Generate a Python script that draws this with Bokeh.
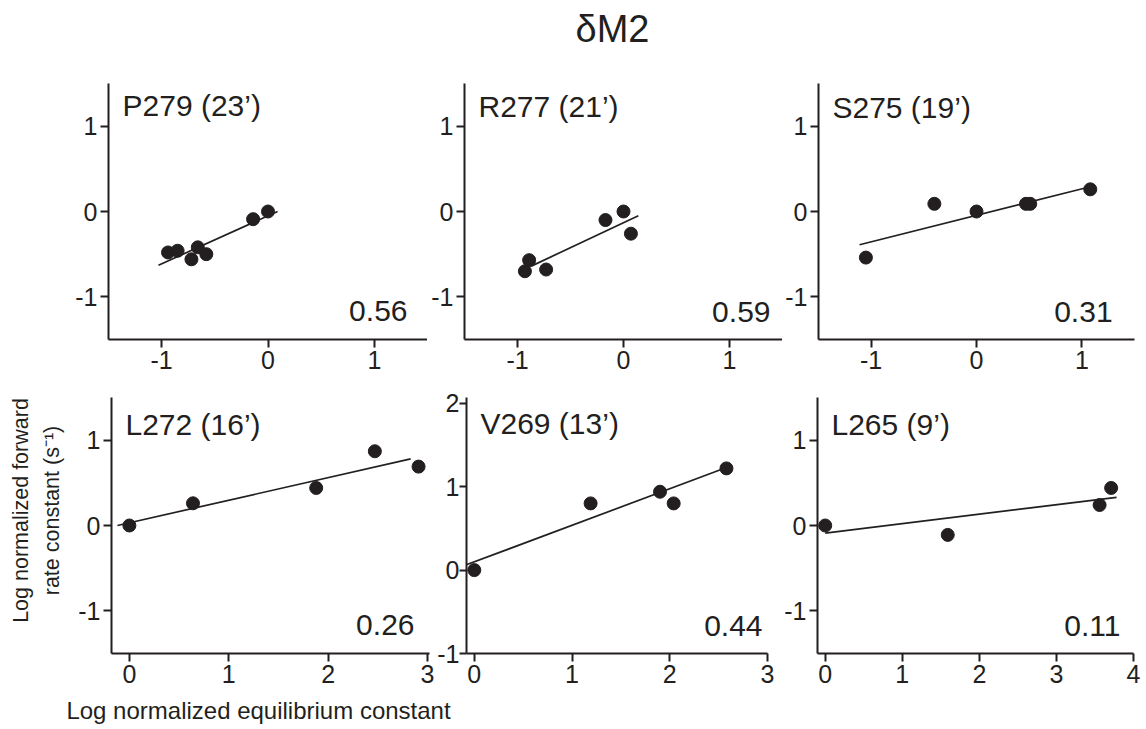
import math
from bokeh.plotting import figure
from bokeh.models import Range1d, FixedTicker, Label, CustomJSTickFormatter
from bokeh.layouts import column, row
from bokeh.embed import file_html
from bokeh.resources import INLINE

FONT = "Liberation Sans"
INK = "#231f20"
BASE_SHIFT = 0.38  # em; compensates the baseline placement of svg labels

# ---------------- data ----------------
title_text = "δM2"
x_title = "Log normalized equilibrium constant"
y_title_lines = ["Log normalized forward", "rate constant (s⁻¹)"]

panel_names = ["P279 (23’)", "R277 (21’)", "S275 (19’)", "L272 (16’)", "V269 (13’)", "L265 (9’)"]
slope_labels = ["0.56", "0.59", "0.31", "0.26", "0.44", "0.11"]

p279_x = [-0.94, -0.85, -0.72, -0.66, -0.58, -0.14, 0.0]
p279_y = [-0.48, -0.46, -0.56, -0.42, -0.50, -0.09, 0.0]
p279_fit_x = [-1.03, 0.09]
p279_fit_y = [-0.63, 0.0]

r277_x = [-0.93, -0.89, -0.73, -0.17, 0.0, 0.07]
r277_y = [-0.70, -0.57, -0.68, -0.10, 0.0, -0.26]
r277_fit_x = [-0.87, 0.14]
r277_fit_y = [-0.64, -0.05]

s275_x = [-1.05, -0.40, 0.0, 0.47, 0.51, 1.08]
s275_y = [-0.54, 0.09, 0.0, 0.09, 0.09, 0.26]
s275_fit_x = [-1.11, 1.08]
s275_fit_y = [-0.39, 0.29]

l272_x = [0.0, 0.64, 1.88, 2.47, 2.91]
l272_y = [0.0, 0.26, 0.44, 0.87, 0.69]
l272_fit_x = [-0.12, 2.83]
l272_fit_y = [0.0, 0.78]

v269_x = [0.0, 1.19, 1.90, 2.04, 2.58]
v269_y = [0.0, 0.80, 0.94, 0.80, 1.22]
v269_fit_x = [-0.09, 2.58]
v269_fit_y = [0.06, 1.23]

l265_x = [0.0, 1.59, 3.56, 3.71]
l265_y = [0.0, -0.11, 0.24, 0.44]
l265_fit_x = [0.0, 3.78]
l265_fit_y = [-0.09, 0.33]

x_ticks_top = [-1, 0, 1]
x_ticks_3 = [0, 1, 2, 3]
x_ticks_4 = [0, 1, 2, 3, 4]
y_ticks_std = [-1, 0, 1]
y_ticks_v269 = [-1, 0, 1, 2]

HYPHEN_FMT = "return (tick < 0 ? '-' : '') + Math.abs(tick).toString();"
TICK_FS = 25


def blank(w, h, yr=None):
    f = figure(width=w, height=h, x_range=Range1d(0, w),
               y_range=Range1d(*(yr if yr else (0, h))),
               toolbar_location=None, tools="", output_backend="svg",
               x_axis_location=None, y_axis_location=None, min_border=0)
    f.outline_line_color = None
    f.xgrid.visible = False
    f.ygrid.visible = False
    return f


def make_panel(xs, ys, fx, fy, name, slope, xr, yr, xt, yt, w, h, bl, br, bt, bb,
               name_dy, val_dx, val_dy, ytick_out=8, ystandoff=3):
    p = figure(width=w, height=h, x_range=Range1d(*xr), y_range=Range1d(*yr),
               toolbar_location=None, tools="", output_backend="svg",
               min_border_left=bl, min_border_right=br,
               min_border_top=bt, min_border_bottom=bb)
    p.outline_line_color = None
    p.xgrid.visible = False
    p.ygrid.visible = False
    for ax, ticks in ((p.xaxis[0], xt), (p.yaxis[0], yt)):
        ax.ticker = FixedTicker(ticks=ticks)
        ax.formatter = CustomJSTickFormatter(code=HYPHEN_FMT)
        ax.minor_tick_line_color = None
        ax.major_tick_in = 0
        ax.major_tick_out = 8
        ax.major_tick_line_width = 2
        ax.major_tick_line_color = INK
        ax.axis_line_width = 2
        ax.axis_line_color = INK
        ax.major_label_text_font = FONT
        ax.major_label_text_font_size = f"{TICK_FS}px"
        ax.major_label_text_color = INK
    p.xaxis[0].major_label_standoff = 3
    p.yaxis[0].major_tick_out = ytick_out
    p.yaxis[0].major_label_standoff = ystandoff
    p.line(fx, fy, line_color=INK, line_width=1.7)
    p.scatter(xs, ys, size=13, fill_color=INK, line_color=INK)

    fw = w - bl - br
    fh = h - bt - bb
    ux = (xr[1] - xr[0]) / fw
    uy = (yr[1] - yr[0]) / fh
    fs_name, fs_val = 30, 30
    p.add_layout(Label(x=xr[0] + 14 * ux,
                       y=yr[1] - (name_dy - BASE_SHIFT * fs_name) * uy, text=name,
                       text_font=FONT, text_font_size=f"{fs_name}px", text_color=INK,
                       text_align="left", text_baseline="alphabetic"))
    p.add_layout(Label(x=xr[1] - val_dx * ux,
                       y=yr[0] + (val_dy + BASE_SHIFT * fs_val) * uy, text=slope,
                       text_font=FONT, text_font_size=f"{fs_val}px", text_color=INK,
                       text_align="right", text_baseline="alphabetic"))
    return p


TITLE_H, H1, H2 = 60, 327, 310
BT2, BB2 = 10, 44
p1 = make_panel(p279_x, p279_y, p279_fit_x, p279_fit_y, panel_names[0], slope_labels[0],
                (-1.5, 1.5), (-1.5, 1.5), x_ticks_top, y_ticks_std,
                427, H1, 108, 0, 23, 48, 33, 20, 17)
p2 = make_panel(r277_x, r277_y, r277_fit_x, r277_fit_y, panel_names[1], slope_labels[1],
                (-1.5, 1.5), (-1.5, 1.5), x_ticks_top, y_ticks_std,
                355, H1, 37, 0, 23, 48, 34, 12, 16)
p3 = make_panel(s275_x, s275_y, s275_fit_x, s275_fit_y, panel_names[2], slope_labels[2],
                (-1.5, 1.5), (-1.5, 1.5), x_ticks_top, y_ticks_std,
                364, H1, 35, 12, 23, 48, 35, 22, 16)
p4 = make_panel(l272_x, l272_y, l272_fit_x, l272_fit_y, panel_names[3], slope_labels[3],
                (-0.18, 3.02), (-1.5, 1.5), x_ticks_3, y_ticks_std,
                368, H2, 45, 5, BT2, BB2, 38, 15, 17)
p5 = make_panel(v269_x, v269_y, v269_fit_x, v269_fit_y, panel_names[4], slope_labels[4],
                (-0.08, 3.0), (-1, 2.07), x_ticks_3, y_ticks_v269,
                341, H2, 31, 8, BT2, BB2, 37, 5, 16, ytick_out=7, ystandoff=0)
p6 = make_panel(l265_x, l265_y, l265_fit_x, l265_fit_y, panel_names[5], slope_labels[5],
                (-0.1, 4.0), (-1.5, 1.5), x_ticks_4, y_ticks_std,
                371, H2, 42, 13, BT2, BB2, 38, 13, 16)

# title strip
pt = blank(1146, TITLE_H)
pt.add_layout(Label(x=612, y=(TITLE_H - 43) + BASE_SHIFT * 38, text=title_text,
                    text_font=FONT, text_font_size="38px", text_color=INK,
                    text_align="center", text_baseline="alphabetic"))

# y-axis title strip (left of the lower row); its frame shares the row's borders,
# so its y range is expressed in page pixels (negated)
row2_top = TITLE_H + H1
frame_top = row2_top + BT2
frame_bot = row2_top + H2 - BB2
py = blank(66, H2, yr=(-frame_bot, -frame_top))
for cx, cy, line in zip((20, 51), (510, 510), y_title_lines):
    py.add_layout(Label(x=cx, y=-cy, text=line, angle=math.pi / 2,
                        text_font=FONT, text_font_size="21.5px", text_color=INK,
                        text_align="center", text_baseline="middle"))

# x-axis title strip (bottom)
row2_bottom = TITLE_H + H1 + H2
XT_H = 729 - row2_bottom
px = blank(1146, XT_H)
px.add_layout(Label(x=258, y=(729 - 719) + BASE_SHIFT * 24, text=x_title,
                    text_font=FONT, text_font_size="24px", text_color=INK,
                    text_align="center", text_baseline="alphabetic"))

layout = column(pt, row(p1, p2, p3), row(py, p4, p5, p6), px)

open("out.html", "w").write(file_html(layout, INLINE))
